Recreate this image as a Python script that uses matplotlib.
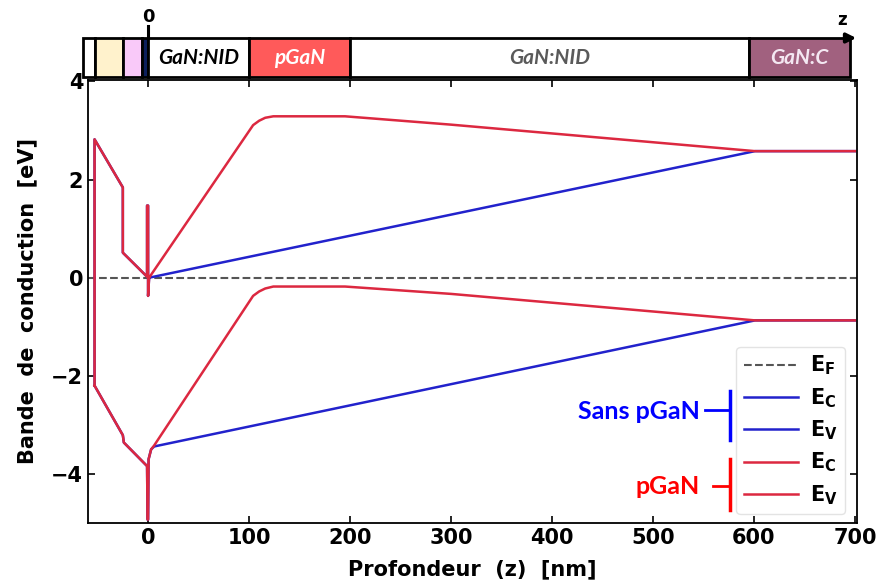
import matplotlib
matplotlib.use("Agg")
from matplotlib import pyplot as plt
from matplotlib.patches import Rectangle

# band edges, structure with pGaN cap (z in nm, E in eV)
ec_pgan_z = [-53, -53, -25, -25, -1, -1, 0, 0, 1, 104, 110, 116, 124, 195, 300, 601, 700]
ec_pgan_e = [-2.2, 2.82, 1.84, 0.51, 0.02, 1.47, 1.47, -0.37, 0.0, 3.11, 3.2, 3.26, 3.29, 3.29, 3.12, 2.58, 2.58]
ev_pgan_z = [-53, -25, -24, -1, -0.5, 0, 0.5, 3, 6, 104, 110, 116, 124, 195, 300, 601, 700]
ev_pgan_e = [-2.2, -3.21, -3.36, -3.84, -4.93, -4.93, -3.7, -3.5, -3.42, -0.37, -0.28, -0.22, -0.18, -0.18, -0.33, -0.87, -0.87]

# band edges, structure without pGaN
ec_ref_z = [-53, -53, -25, -25, -1, -1, 0, 0, 1, 601, 700]
ec_ref_e = [-2.2, 2.82, 1.84, 0.51, 0.02, 1.47, 1.47, -0.37, 0.0, 2.58, 2.58]
ev_ref_z = [-53, -25, -24, -1, -0.5, 0, 0.5, 3, 6, 601, 700]
ev_ref_e = [-2.2, -3.21, -3.36, -3.84, -4.93, -4.93, -3.7, -3.5, -3.44, -0.87, -0.87]

# layer stack drawn above the plot
layer_edges = [-64, -53, -25, -6, 0, 100, 200, 595, 695]
layer_colors = ["white", "#fff2cc", "#f9c9f9", "#0d1f5c", "white", "#ff5a5a", "white", "#a1617f"]
layer_names = ["", "", "", "", "GaN:NID", "pGaN", "GaN:NID", "GaN:C"]
layer_text_colors = ["k", "k", "k", "k", "black", "white", "#5a5a5a", "#f4e8f2"]

blue = "#2222cc"
red = "#dc2840"

fig = plt.figure(figsize=(8.88, 5.84), dpi=100)
ax = fig.add_axes([88 / 888, 61 / 584, 769 / 888, 443 / 584])

ax.axhline(0, color="#555555", ls="--", lw=1.5, label=r"$\mathbf{E_F}$")
ax.plot(ec_ref_z, ec_ref_e, color=blue, lw=1.8, label=r"$\mathbf{E_C}$")
ax.plot(ev_ref_z, ev_ref_e, color=blue, lw=1.8, label=r"$\mathbf{E_V}$")
ax.plot(ec_pgan_z, ec_pgan_e, color=red, lw=1.8, label=r"$\mathbf{E_C}$")
ax.plot(ev_pgan_z, ev_pgan_e, color=red, lw=1.8, label=r"$\mathbf{E_V}$")

ax.set_xlim(-59.5, 702)
ax.set_ylim(-5.0, 4.03)
ax.set_xticks(range(0, 701, 100))
ax.set_yticks([-4, -2, 0, 2, 4])
ax.tick_params(direction="in", top=True, right=True, length=5, width=1.2)
for lab in ax.get_xticklabels() + ax.get_yticklabels():
    lab.set_fontweight("bold")
    lab.set_fontsize(15)
for s in ax.spines.values():
    s.set_linewidth(1.3)

ax.set_xlabel("Profondeur  (z)  [nm]", fontsize=15, fontweight="bold", labelpad=8)
ax.set_ylabel("Bande  de  conduction  [eV]", fontsize=15, fontweight="bold", labelpad=10)

leg = ax.legend(loc="lower right", bbox_to_anchor=(0.985, 0.02), fontsize=15,
                handlelength=2.6, labelspacing=0.42, frameon=True, fancybox=True,
                borderpad=0.35, handletextpad=0.6, borderaxespad=0.0)
leg.get_frame().set_edgecolor("#dddddd")

# group labels next to the legend
ax.text(546, -2.72, "Sans pGaN", color="#0000ff", fontsize=18, fontweight="bold",
        family="Lato", ha="right", va="center", zorder=10)
ax.plot([551, 575], [-2.70, -2.70], color="#0000ff", lw=2, zorder=10)
ax.plot([576, 576], [-2.30, -3.31], color="#0000ff", lw=2.5, zorder=10)
ax.text(546, -4.25, "pGaN", color="#ff0000", fontsize=18, fontweight="bold",
        family="Lato", ha="right", va="center", zorder=10)
ax.plot([559, 575], [-4.25, -4.25], color="#ff0000", lw=2, zorder=10)
ax.plot([576, 576], [-3.70, -4.74], color="#ff0000", lw=2.5, zorder=10)

# layer stack
bar = fig.add_axes([88 / 888, 507 / 584, 769 / 888, 39 / 584])
bar.set_xlim(ax.get_xlim())
bar.set_ylim(0, 1)
bar.axis("off")
for i in range(len(layer_colors)):
    x0, x1 = layer_edges[i], layer_edges[i + 1]
    bar.add_patch(Rectangle((x0, 0), x1 - x0, 1, facecolor=layer_colors[i],
                            edgecolor="black", lw=2, clip_on=False))
    if layer_names[i]:
        bar.text((x0 + x1) / 2, 0.48, layer_names[i], color=layer_text_colors[i],
                 fontsize=15, fontweight="bold", style="italic", family="Lato",
                 ha="center", va="center")
bar.annotate("", xy=(704, 1), xytext=(690, 1),
             arrowprops=dict(arrowstyle="-|>", color="black", lw=2.5, mutation_scale=14),
             annotation_clip=False)
bar.plot([0, 0], [1, 1.3], color="black", lw=2.2, clip_on=False)
bar.text(0, 1.55, "0", fontsize=13, fontweight="bold", ha="center", va="center")
bar.text(687, 1.45, "z", fontsize=12, fontweight="bold", ha="center", va="center")

fig.savefig("out.png", dpi=100)
